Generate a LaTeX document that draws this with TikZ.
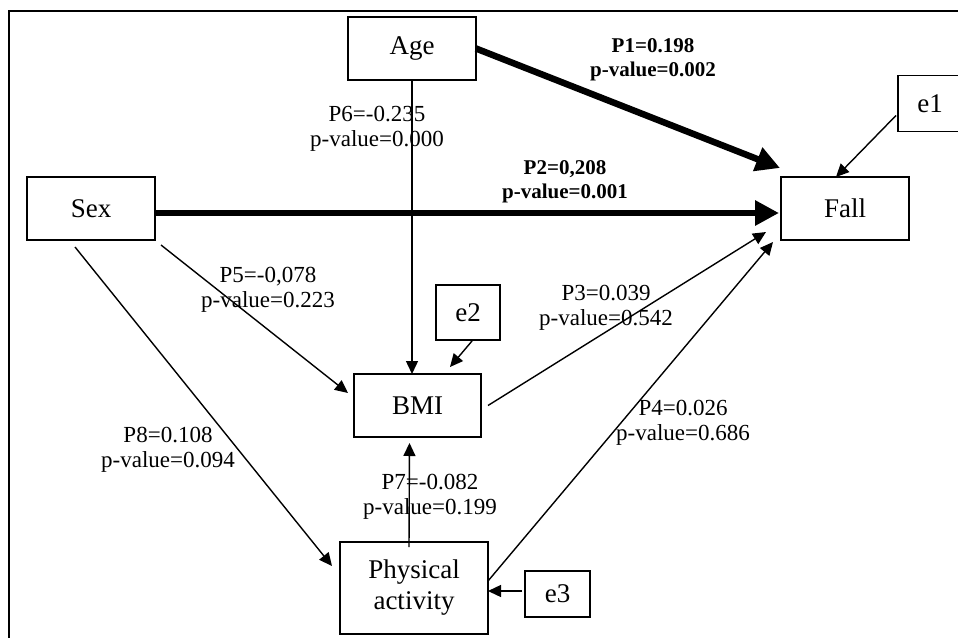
\documentclass[tikz,border=0pt]{standalone}
\usepackage{fontspec}
\setmainfont{Liberation Serif}
\usetikzlibrary{arrows.meta,calc}
\begin{document}
\begin{tikzpicture}[x=1pt,y=-1pt,
  box/.style={draw, line width=1.8pt, inner sep=0pt, outer sep=0pt, align=center, font=\fontsize{27}{31}\selectfont},
  lab/.style={align=center, inner sep=0pt, font=\fontsize{23}{25}\selectfont},
  blab/.style={align=center, inner sep=0pt, font=\fontsize{21}{24}\selectfont\bfseries},
  thinarr/.style={line width=1.4pt, -{Triangle[length=13pt,width=12pt]}},
  boldarr/.style={line width=6.5pt, -{Triangle[length=24pt,width=24pt]}},
]
\useasboundingbox (0,0) rectangle (958,637);
\clip (0,0) rectangle (958,637);
\fill[white] (0,0) rectangle (958,637);
\draw[line width=2pt] (9,640) -- (9,10.5) -- (960,10.5);

\node[box, minimum width=128pt, minimum height=63pt] (age) at (412,48.5) {Age};
\node[box, minimum width=128pt, minimum height=63pt] (sex) at (91,208.5) {Sex};
\node[box, minimum width=128pt, minimum height=63pt] (fall) at (845,208.5) {Fall};
\node[box, minimum width=64pt, minimum height=56pt] (e1) at (930,103.5) {e1};
\node[box, minimum width=64pt, minimum height=55pt] (e2) at (468,312.5) {e2};
\node[box, minimum width=127pt, minimum height=63pt] (bmi) at (417.5,405.5) {BMI};
\node[box, minimum width=148pt, minimum height=92pt] (pa) at (414,588) {Physical\\activity};
\node[box, minimum width=65pt, minimum height=46pt] (e3) at (557.5,594) {e3};

\draw[boldarr] (age.east) -- ($(fall.north west)+(-1,-9)$);
\draw[boldarr] ($(sex.east)+(0,4.5)$) -- ($(fall.west)+(-2,4.5)$);
\draw[thinarr] (age.south) -- (age.south |- bmi.north);
\draw[thinarr] ($(sex.south east)+(6,5)$) -- ($(bmi.west)+(-6,-12.5)$);
\draw[thinarr] ($(sex.south)+(-16,7)$) -- ($(pa.west)+(-8,-22)$);
\draw[thinarr] ($(bmi.east)+(7,0)$) -- ($(fall.south west)+(-15,-8)$);
\draw[thinarr] ($(pa.east)+(0,-7)$) -- ($(fall.south west)+(-8,2)$);
\draw[thinarr] ($(e1.west)+(-2,12)$) -- ($(fall.north)+(-9,0)$);
\draw[thinarr] ($(e2.south)+(4,1)$) -- ($(bmi.north)+(32.5,-7)$);
\draw[thinarr] ($(pa.north)+(-5,5)$) -- ($(bmi.south)+(-8,6)$);
\draw[thinarr] ($(e3.west)+(-3,-3)$) -- ($(pa.east)+(0,3)$);

\node[blab] (l1) at (653,60) {P1=0.198\\p-value=0.002};
\node[blab] (l2) at (565,182) {P2=0,208\\p-value=0.001};
\node[lab] (l6) at (377,129) {P6=-0.235\\p-value=0.000};
\node[lab] (l5) at (268,290) {P5=-0,078\\p-value=0.223};
\node[lab] (l3) at (606,308) {P3=0.039\\p-value=0.542};
\node[lab] (l8) at (168,450) {P8=0.108\\p-value=0.094};
\node[lab] (l7) at (430,497) {P7=-0.082\\p-value=0.199};
\node[lab] (l4) at (683,423) {P4=0.026\\p-value=0.686};
\end{tikzpicture}
\end{document}
